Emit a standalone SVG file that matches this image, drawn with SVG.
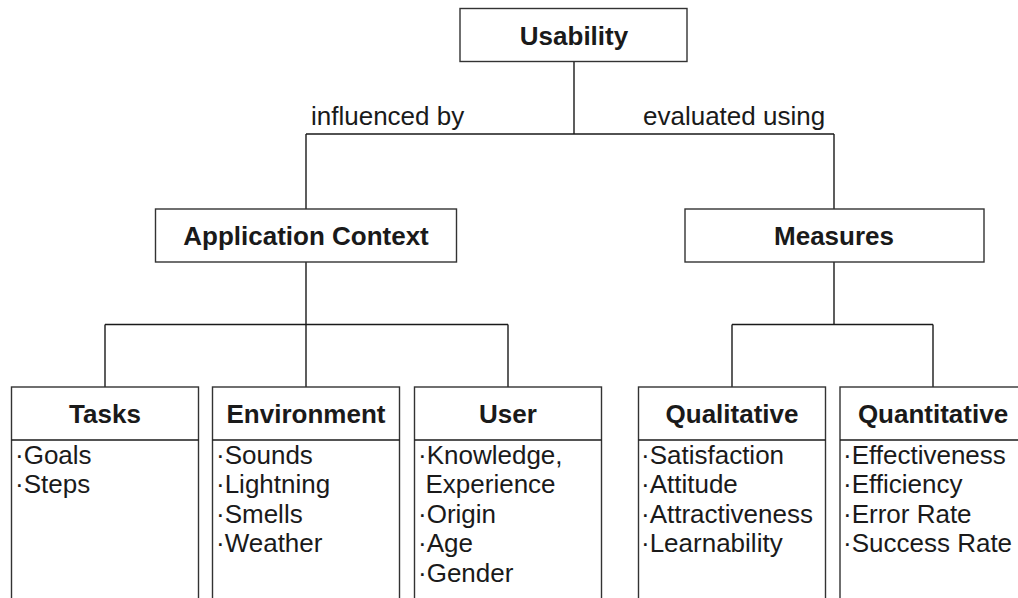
<svg xmlns="http://www.w3.org/2000/svg" width="1018" height="598" viewBox="0 0 1018 598">
<style>
.box{fill:#fff;stroke:#333;stroke-width:1.4}
.ln{fill:none;stroke:#1a1a1a;stroke-width:1.4}
.h{font-family:"Liberation Sans",Arial,sans-serif;font-size:26px;font-weight:bold;fill:#1a1a1a;text-anchor:middle}
.t{font-family:"Liberation Sans",Arial,sans-serif;font-size:26px;fill:#1a1a1a}
</style>
<rect width="1018" height="598" fill="#fff"/>
<g id="connectors">
<path class="ln" d="M574 62V134M306 134H834M306 134V209M834 134V209"/>
<path class="ln" d="M306 262V324.5M105 324.5H508M105 324.5V387M306 324.5V387M508 324.5V387"/>
<path class="ln" d="M834 262V324.5M732 324.5H933M732 324.5V387M933 324.5V387"/>
<text class="t" x="311" y="125">influenced by</text>
<text class="t" x="643" y="125">evaluated using</text>
</g>
<g id="usability">
<rect class="box" x="460" y="8.5" width="227" height="53"/>
<text class="h" x="574" y="44.5">Usability</text>
</g>
<g id="application-context">
<rect class="box" x="155.5" y="209" width="301" height="53"/>
<text class="h" x="306" y="245">Application Context</text>
</g>
<g id="measures">
<rect class="box" x="685" y="209" width="299" height="53"/>
<text class="h" x="834" y="245">Measures</text>
</g>
<g id="tasks">
<rect class="box" x="11.5" y="387" width="187" height="230"/>
<path class="ln" d="M11.5 440H198.5"/>
<text class="h" x="105" y="422.5">Tasks</text>
<text class="t" x="15" y="463.5">·Goals</text>
<text class="t" x="15" y="493">·Steps</text>
</g>
<g id="environment">
<rect class="box" x="212.5" y="387" width="187" height="230"/>
<path class="ln" d="M212.5 440H399.5"/>
<text class="h" x="306" y="422.5">Environment</text>
<text class="t" x="216" y="463.5">·Sounds</text>
<text class="t" x="216" y="493">·Lightning</text>
<text class="t" x="216" y="522.5">·Smells</text>
<text class="t" x="216" y="552">·Weather</text>
</g>
<g id="user">
<rect class="box" x="414.5" y="387" width="187" height="230"/>
<path class="ln" d="M414.5 440H601.5"/>
<text class="h" x="508" y="422.5">User</text>
<text class="t" x="418" y="463.5">·Knowledge,</text>
<text class="t" x="425.5" y="493">Experience</text>
<text class="t" x="418" y="522.5">·Origin</text>
<text class="t" x="418" y="552">·Age</text>
<text class="t" x="418" y="581.5">·Gender</text>
</g>
<g id="qualitative">
<rect class="box" x="638.5" y="387" width="187" height="230"/>
<path class="ln" d="M638.5 440H825.5"/>
<text class="h" x="732" y="422.5">Qualitative</text>
<text class="t" x="641" y="463.5">·Satisfaction</text>
<text class="t" x="641" y="493">·Attitude</text>
<text class="t" x="641" y="522.5">·Attractiveness</text>
<text class="t" x="641" y="552">·Learnability</text>
</g>
<g id="quantitative">
<rect class="box" x="840" y="387" width="187" height="230"/>
<path class="ln" d="M840 440H1027"/>
<text class="h" x="933" y="422.5">Quantitative</text>
<text class="t" x="843" y="463.5">·Effectiveness</text>
<text class="t" x="843" y="493">·Efficiency</text>
<text class="t" x="843" y="522.5">·Error Rate</text>
<text class="t" x="843" y="552">·Success Rate</text>
</g>
</svg>
